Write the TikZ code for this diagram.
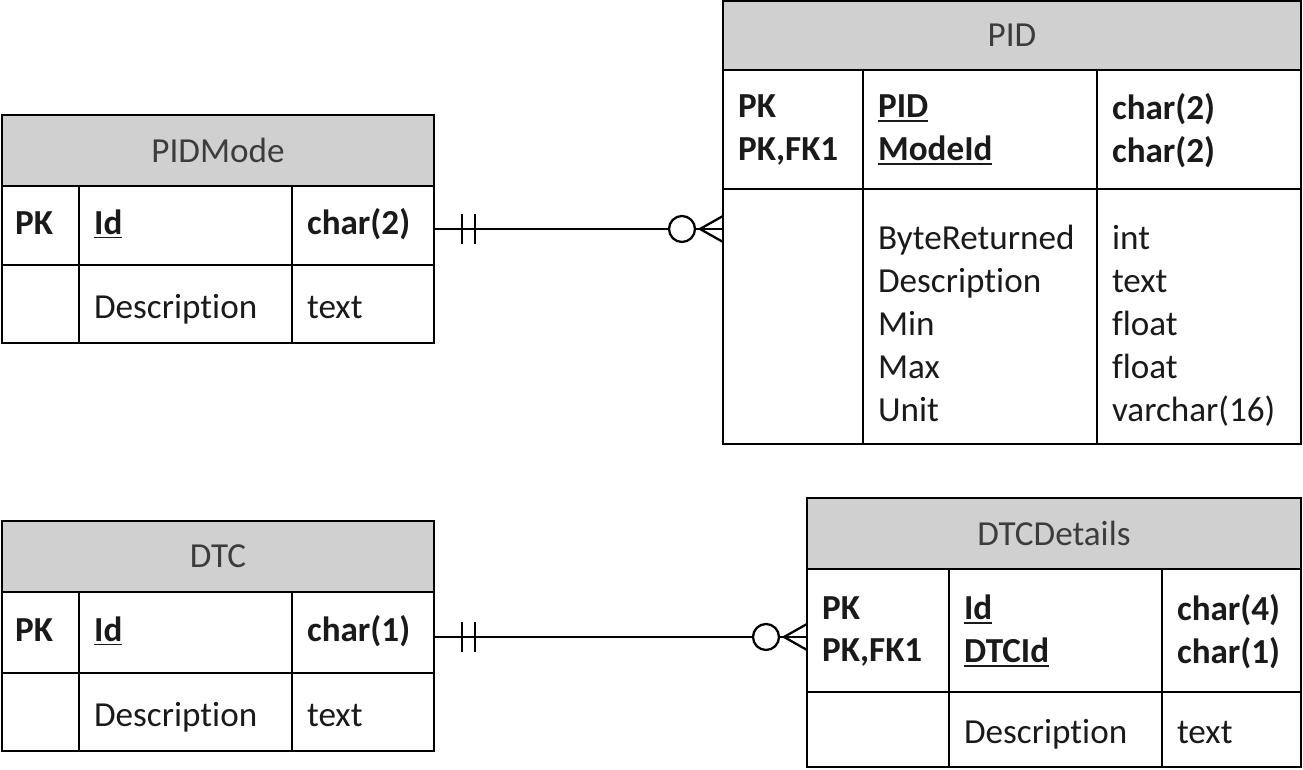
\documentclass[tikz,border=0pt]{standalone}
\usepackage{fontspec}
\setmainfont{Carlito}[Ligatures=NoCommon]
\usepackage{xcolor}
\usetikzlibrary{positioning, calc}
\definecolor{HeadGray}{HTML}{D0D0D0}
\definecolor{HeadText}{HTML}{3C3C3C}
\definecolor{BodyText}{HTML}{1A1A1A}
\newcommand{\pkey}[1]{\textbf{\setbox0\hbox{#1}\rlap{\rule[-2.4pt]{\wd0}{1pt}}\box0}}

\begin{document}
\begin{tikzpicture}[x=0.02cm, y=-0.02cm, line width=1.3pt,
  font=\fontsize{20}{24.4}\selectfont,
  hdr/.style={draw, fill=HeadGray, text=HeadText, anchor=north west, inner sep=0pt, outer sep=0pt},
  cell/.style={draw, anchor=north west, inner sep=0pt, outer sep=0pt},
  fld/.style={anchor=west, xshift=0.28cm, inner sep=0pt, align=left, text=BodyText,
    execute at begin node=\strut, execute at end node=\strut},
  keys/.style={fld, yshift=-0.1cm},
  attr/.style={fld, yshift=-0.11cm},
  conn/.style={line width=1.3pt}]
  \useasboundingbox (0,0) rectangle (1303,770);

  % PIDMode
  \node (pmhead) [hdr, minimum width=8.64cm, minimum height=1.42cm] at (2,115) {PIDMode};
  \node (pmk1) [cell, minimum width=1.54cm, minimum height=1.58cm] at (pmhead.south west) {};
  \node (pmk2) [cell, minimum width=4.26cm, minimum height=1.58cm] at (pmk1.north east) {};
  \node (pmk3) [cell, minimum width=2.84cm, minimum height=1.58cm] at (pmk2.north east) {};
  \node (pma1) [cell, minimum width=1.54cm, minimum height=1.56cm] at (pmk1.south west) {};
  \node (pma2) [cell, minimum width=4.26cm, minimum height=1.56cm] at (pma1.north east) {};
  \node (pma3) [cell, minimum width=2.84cm, minimum height=1.56cm] at (pma2.north east) {};
  \node (pmt1) [fld, xshift=-0.04cm] at (pmk1.west) {\textbf{PK}};
  \node (pmt2) [fld] at (pmk2.west) {\pkey{Id}};
  \node (pmt3) [fld] at (pmk3.west) {\textbf{char(2)}};
  \node (pmt4) [attr] at (pma2.west) {Description};
  \node (pmt5) [attr] at (pma3.west) {text};

  % PID
  \node (pidhead) [hdr, minimum width=11.56cm, minimum height=1.38cm] at (723,1) {PID};
  \node (pidk1) [cell, minimum width=2.8cm, minimum height=2.38cm] at (pidhead.south west) {};
  \node (pidk2) [cell, minimum width=4.68cm, minimum height=2.38cm] at (pidk1.north east) {};
  \node (pidk3) [cell, minimum width=4.08cm, minimum height=2.38cm] at (pidk2.north east) {};
  \node (pidb1) [cell, minimum width=2.8cm, minimum height=5.1cm] at (pidk1.south west) {};
  \node (pidb2) [cell, minimum width=4.68cm, minimum height=5.1cm] at (pidb1.north east) {};
  \node (pidb3) [cell, minimum width=4.08cm, minimum height=5.1cm] at (pidb2.north east) {};
  \node (pidt1) [keys] at (pidk1.west) {\textbf{PK}\\\textbf{PK,FK1}};
  \node (pidt2) [keys] at (pidk2.west) {\pkey{PID}\\\pkey{ModeId}};
  \node (pidt3) [keys] at (pidk3.west) {\textbf{char(2)}\\\textbf{char(2)}};
  \node (pidt4) [fld, yshift=-0.27cm] at (pidb2.west) {ByteReturned\\Description\\Min\\Max\\Unit};
  \node (pidt5) [fld, yshift=-0.27cm] at (pidb3.west) {int\\text\\float\\float\\varchar(16)};

  % DTC
  \node (dthead) [hdr, minimum width=8.64cm, minimum height=1.42cm] at (2,521) {DTC};
  \node (dtk1) [cell, minimum width=1.54cm, minimum height=1.62cm] at (dthead.south west) {};
  \node (dtk2) [cell, minimum width=4.26cm, minimum height=1.62cm] at (dtk1.north east) {};
  \node (dtk3) [cell, minimum width=2.84cm, minimum height=1.62cm] at (dtk2.north east) {};
  \node (dta1) [cell, minimum width=1.54cm, minimum height=1.56cm] at (dtk1.south west) {};
  \node (dta2) [cell, minimum width=4.26cm, minimum height=1.56cm] at (dta1.north east) {};
  \node (dta3) [cell, minimum width=2.84cm, minimum height=1.56cm] at (dta2.north east) {};
  \node (dtt1) [fld, xshift=-0.04cm] at (dtk1.west) {\textbf{PK}};
  \node (dtt2) [fld] at (dtk2.west) {\pkey{Id}};
  \node (dtt3) [fld] at (dtk3.west) {\textbf{char(1)}};
  \node (dtt4) [attr] at (dta2.west) {Description};
  \node (dtt5) [attr] at (dta3.west) {text};

  % DTCDetails
  \node (ddhead) [hdr, minimum width=9.88cm, minimum height=1.42cm] at (807,498) {DTCDetails};
  \node (ddk1) [cell, minimum width=2.84cm, minimum height=2.46cm] at (ddhead.south west) {};
  \node (ddk2) [cell, minimum width=4.26cm, minimum height=2.46cm] at (ddk1.north east) {};
  \node (ddk3) [cell, minimum width=2.78cm, minimum height=2.46cm] at (ddk2.north east) {};
  \node (dda1) [cell, minimum width=2.84cm, minimum height=1.5cm] at (ddk1.south west) {};
  \node (dda2) [cell, minimum width=4.26cm, minimum height=1.5cm] at (dda1.north east) {};
  \node (dda3) [cell, minimum width=2.78cm, minimum height=1.5cm] at (dda2.north east) {};
  \node (ddt1) [keys] at (ddk1.west) {\textbf{PK}\\\textbf{PK,FK1}};
  \node (ddt2) [keys] at (ddk2.west) {\pkey{Id}\\\pkey{DTCId}};
  \node (ddt3) [keys] at (ddk3.west) {\textbf{char(4)}\\\textbf{char(1)}};
  \node (ddt4) [attr] at (dda2.west) {Description};
  \node (ddt5) [attr] at (dda3.west) {text};

  % PIDMode -||----o< PID
  \coordinate (r1s) at ([yshift=-0.07cm]pmk3.east);
  \coordinate (r1e) at (r1s -| pidb1.west);
  \draw[conn] (r1s) -- (r1e);
  \draw[conn] ($(r1s)+(28,-15)$) -- ++(0,30);
  \draw[conn] ($(r1s)+(41,-15)$) -- ++(0,30);
  \draw[conn, fill=white] ($(r1e)+(-41,0)$) circle (0.26cm);
  \draw[conn] ($(r1e)+(0,-13)$) -- ($(r1e)+(-23,0)$) -- ($(r1e)+(0,13)$);

  % DTC -||----o< DTCDetails
  \coordinate (r2s) at ([yshift=-0.09cm]dtk3.east);
  \coordinate (r2e) at (r2s -| ddk1.west);
  \draw[conn] (r2s) -- (r2e);
  \draw[conn] ($(r2s)+(28,-15)$) -- ++(0,30);
  \draw[conn] ($(r2s)+(41,-15)$) -- ++(0,30);
  \draw[conn, fill=white] ($(r2e)+(-41,0)$) circle (0.26cm);
  \draw[conn] ($(r2e)+(0,-13)$) -- ($(r2e)+(-23,0)$) -- ($(r2e)+(0,13)$);
\end{tikzpicture}
\end{document}
